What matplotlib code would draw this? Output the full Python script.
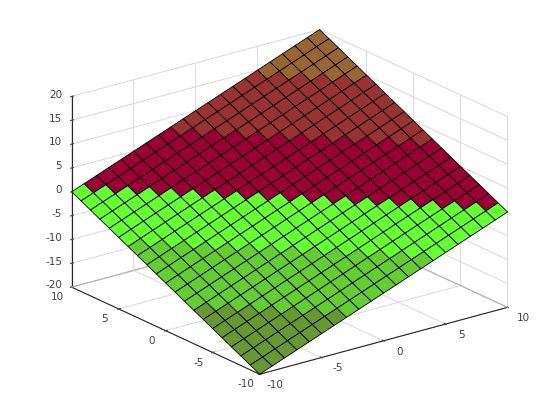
import matplotlib
matplotlib.use('Agg')
import matplotlib.pyplot as plt
from matplotlib.colors import BoundaryNorm, ListedColormap
from matplotlib.transforms import ScaledTranslation
import numpy as np

x_vals = [-10, -9, -8, -7, -6, -5, -4, -3, -2, -1, 0, 1, 2, 3, 4, 5, 6, 7, 8, 9, 10]
y_vals = [-10, -9, -8, -7, -6, -5, -4, -3, -2, -1, 0, 1, 2, 3, 4, 5, 6, 7, 8, 9, 10]
z_rows = [
    [-20, -19, -18, -17, -16, -15, -14, -13, -12, -11, -10, -9, -8, -7, -6, -5, -4, -3, -2, -1, 0],
    [-19, -18, -17, -16, -15, -14, -13, -12, -11, -10, -9, -8, -7, -6, -5, -4, -3, -2, -1, 0, 1],
    [-18, -17, -16, -15, -14, -13, -12, -11, -10, -9, -8, -7, -6, -5, -4, -3, -2, -1, 0, 1, 2],
    [-17, -16, -15, -14, -13, -12, -11, -10, -9, -8, -7, -6, -5, -4, -3, -2, -1, 0, 1, 2, 3],
    [-16, -15, -14, -13, -12, -11, -10, -9, -8, -7, -6, -5, -4, -3, -2, -1, 0, 1, 2, 3, 4],
    [-15, -14, -13, -12, -11, -10, -9, -8, -7, -6, -5, -4, -3, -2, -1, 0, 1, 2, 3, 4, 5],
    [-14, -13, -12, -11, -10, -9, -8, -7, -6, -5, -4, -3, -2, -1, 0, 1, 2, 3, 4, 5, 6],
    [-13, -12, -11, -10, -9, -8, -7, -6, -5, -4, -3, -2, -1, 0, 1, 2, 3, 4, 5, 6, 7],
    [-12, -11, -10, -9, -8, -7, -6, -5, -4, -3, -2, -1, 0, 1, 2, 3, 4, 5, 6, 7, 8],
    [-11, -10, -9, -8, -7, -6, -5, -4, -3, -2, -1, 0, 1, 2, 3, 4, 5, 6, 7, 8, 9],
    [-10, -9, -8, -7, -6, -5, -4, -3, -2, -1, 0, 1, 2, 3, 4, 5, 6, 7, 8, 9, 10],
    [-9, -8, -7, -6, -5, -4, -3, -2, -1, 0, 1, 2, 3, 4, 5, 6, 7, 8, 9, 10, 11],
    [-8, -7, -6, -5, -4, -3, -2, -1, 0, 1, 2, 3, 4, 5, 6, 7, 8, 9, 10, 11, 12],
    [-7, -6, -5, -4, -3, -2, -1, 0, 1, 2, 3, 4, 5, 6, 7, 8, 9, 10, 11, 12, 13],
    [-6, -5, -4, -3, -2, -1, 0, 1, 2, 3, 4, 5, 6, 7, 8, 9, 10, 11, 12, 13, 14],
    [-5, -4, -3, -2, -1, 0, 1, 2, 3, 4, 5, 6, 7, 8, 9, 10, 11, 12, 13, 14, 15],
    [-4, -3, -2, -1, 0, 1, 2, 3, 4, 5, 6, 7, 8, 9, 10, 11, 12, 13, 14, 15, 16],
    [-3, -2, -1, 0, 1, 2, 3, 4, 5, 6, 7, 8, 9, 10, 11, 12, 13, 14, 15, 16, 17],
    [-2, -1, 0, 1, 2, 3, 4, 5, 6, 7, 8, 9, 10, 11, 12, 13, 14, 15, 16, 17, 18],
    [-1, 0, 1, 2, 3, 4, 5, 6, 7, 8, 9, 10, 11, 12, 13, 14, 15, 16, 17, 18, 19],
    [0, 1, 2, 3, 4, 5, 6, 7, 8, 9, 10, 11, 12, 13, 14, 15, 16, 17, 18, 19, 20],
]
band_colors = ['#669933', '#66cc33', '#66ff33', '#990033', '#993333', '#996633']
band_edges = [-20, -13.33, -6.67, 0, 6.67, 13.33, 20]
xy_ticks = [-10, -5, 0, 5, 10]
z_ticks = [-20, -15, -10, -5, 0, 5, 10, 15, 20]

plt.rcParams['axes.unicode_minus'] = False

X, Y = np.meshgrid(x_vals, y_vals)
Z = np.array(z_rows, dtype=float)

cmap = ListedColormap(band_colors)
norm = BoundaryNorm(band_edges, cmap.N)
# each facet takes the colour of its lowest corner
face_cols = cmap(norm(Z[:-1, :-1]))

fig = plt.figure(figsize=(5.6, 4.2), dpi=100)
ax = fig.add_axes([-18.5 / 560, -90 / 420, 600 / 560, 600 / 420], projection='3d', computed_zorder=False)
ax.set_proj_type('ortho')
ax.view_init(elev=20.7, azim=-127.35)
ax.set_box_aspect((312, 310, 204), zoom=0.784)
ax.patch.set_alpha(0)

# darker back edges of the floor, behind the surface
ax.plot([x_vals[0], x_vals[-1]], [y_vals[-1], y_vals[-1]], [z_ticks[0], z_ticks[0]],
        color='#b3b3b3', linewidth=0.8, zorder=1)
ax.plot([x_vals[-1], x_vals[-1]], [y_vals[0], y_vals[-1]], [z_ticks[0], z_ticks[0]],
        color='#b3b3b3', linewidth=0.8, zorder=1)
ax.plot_surface(X, Y, Z, rstride=1, cstride=1, facecolors=face_cols, shade=False,
                edgecolor='black', linewidth=0.6, antialiased=True, zorder=2)

ax.set_xlim(-10, 10, view_margin=0)
ax.set_ylim(-10, 10, view_margin=0)
ax.set_zlim(-20, 20, view_margin=0)
ax.set_xticks(xy_ticks)
ax.set_yticks(xy_ticks)
ax.set_zticks(z_ticks)

for axis in (ax.xaxis, ax.yaxis, ax.zaxis):
    axis.set_pane_color((1, 1, 1, 0))
    axis.pane.set_edgecolor('#d9d9d9')
    axis.line.set_color('#262626')
    axis.line.set_linewidth(0.8)
    axis._axinfo['grid']['color'] = '#d9d9d9'
    axis._axinfo['grid']['linewidth'] = 0.7
    axis._axinfo['tick']['inward_factor'] = 0.05
    axis._axinfo['tick']['outward_factor'] = 0.08
ax.tick_params(labelsize=7.5, colors='#404040', pad=0)


def shift_labels(axis, dx, dy, ha='center'):
    # mplot3d resets the label transforms on every draw, so hook in there (dx, dy in px)
    orig = axis.get_major_ticks
    off = ScaledTranslation(dx / 100, dy / 100, fig.dpi_scale_trans)

    def get_ticks(numticks=None):
        ticks = orig(numticks)
        for t in ticks:
            t.label1.set_transform(ax.transData + off)
            t.label1.set_horizontalalignment(ha)
        return ticks
    axis.get_major_ticks = get_ticks


shift_labels(ax.xaxis, 9, 4)
shift_labels(ax.yaxis, -5, 4)
shift_labels(ax.zaxis, 6, 6, ha='right')

fig.savefig('out.png', dpi=100)
